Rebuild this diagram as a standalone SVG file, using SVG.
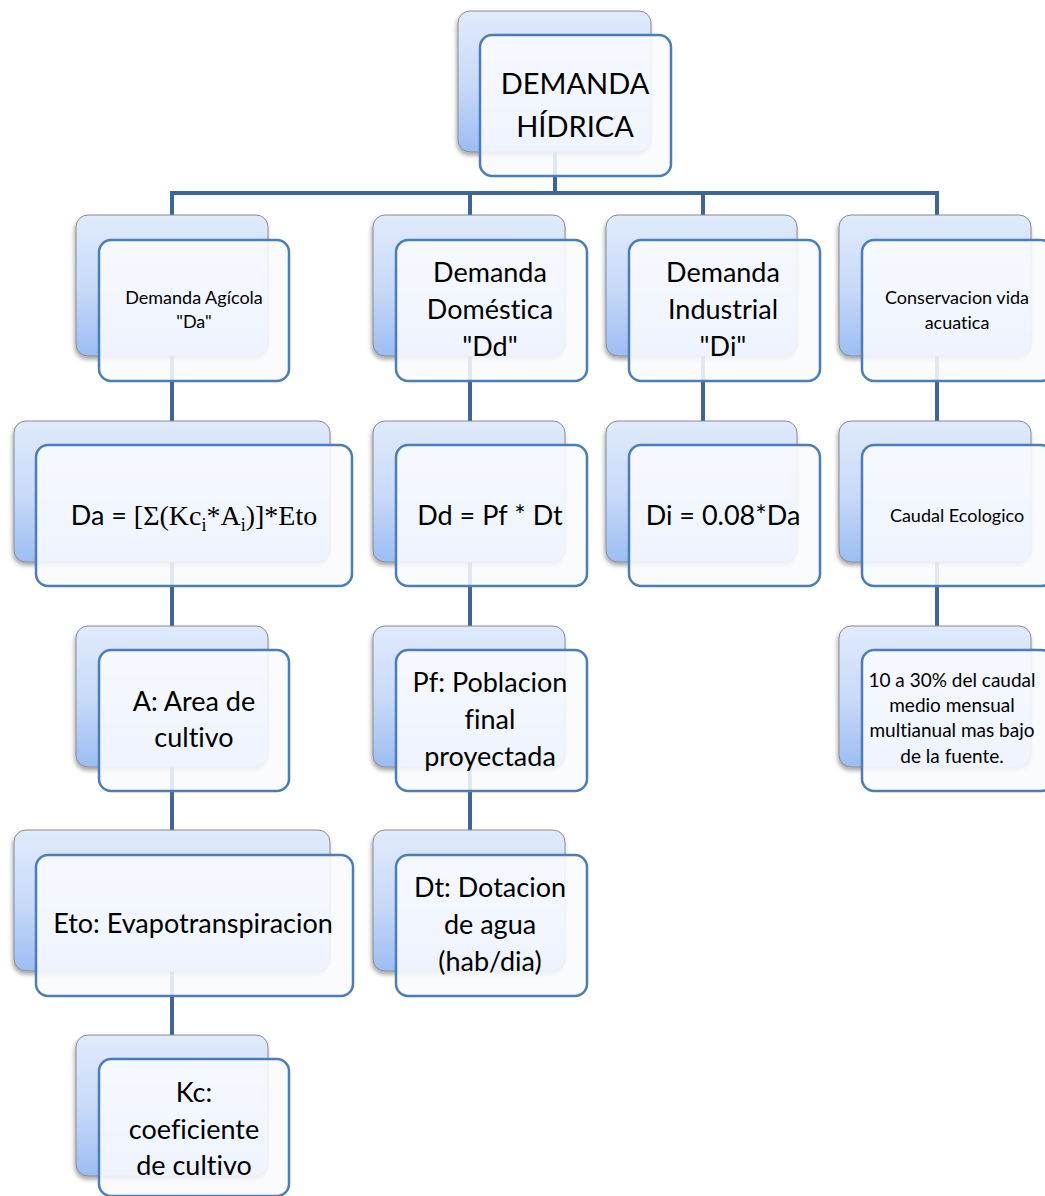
<svg xmlns="http://www.w3.org/2000/svg" width="1045" height="1196" viewBox="0 0 1045 1196">
<defs>
<linearGradient id="g" x1="0" y1="0" x2="0" y2="1">
<stop offset="0" stop-color="#e0eafc"/>
<stop offset="0.5" stop-color="#c9dbf9"/>
<stop offset="1" stop-color="#9cbdf3"/>
</linearGradient>
<filter id="sh" x="-10%" y="-10%" width="120%" height="125%">
<feDropShadow dx="-1" dy="3" stdDeviation="2" flood-color="#000" flood-opacity="0.35"/>
</filter>
<style>
.back{fill:url(#g);stroke:#8a8a8a;stroke-width:1;filter:url(#sh)}
.front{fill:#f9fbff;fill-opacity:0.88;stroke:#4a7ebb;stroke-width:2.5}
.t{font-family:Lato,"Open Sans",sans-serif;fill:#000;text-anchor:middle;font-variant-ligatures:none}
.mid{font-size:27px}
.sm{font-size:18px}
.sm2{font-size:19px}
.conn{stroke:#3c6699;stroke-width:4;fill:none}
</style>
</defs>
<rect width="1045" height="1196" fill="#fff"/>
<g id="connectors">
<path class="conn" d="M555 150V193M172 193H937M172 191V1040M470 191V835M703 191V425M937 191V630"/>
</g>
<g id="n-demanda-hidrica">
<rect class="back" x="458" y="11" width="193" height="141" rx="12"/>
<rect class="front" x="480" y="35" width="191" height="141" rx="12"/>
<text class="t" font-size="29" x="575" y="94">DEMANDA</text>
<text class="t" font-size="29" x="575" y="137">HÍDRICA</text>
</g>
<g id="n-agricola">
<rect class="back" x="76" y="215" width="192" height="141" rx="12"/>
<rect class="front" x="99" y="240" width="190" height="141" rx="12"/>
<text class="t sm" x="194" y="304">Demanda Agícola</text>
<text class="t sm" x="194" y="328">"Da"</text>
</g>
<g id="n-domestica">
<rect class="back" x="373" y="215" width="192" height="141" rx="12"/>
<rect class="front" x="396" y="240" width="191" height="141" rx="12"/>
<text class="t mid" x="490" y="282">Demanda</text>
<text class="t mid" x="490" y="319">Doméstica</text>
<text class="t mid" x="490" y="356">"Dd"</text>
</g>
<g id="n-industrial">
<rect class="back" x="606" y="215" width="191" height="141" rx="12"/>
<rect class="front" x="629" y="240" width="191" height="141" rx="12"/>
<text class="t mid" x="723" y="282">Demanda</text>
<text class="t mid" x="723" y="319">Industrial</text>
<text class="t mid" x="723" y="356">"Di"</text>
</g>
<g id="n-conservacion">
<rect class="back" x="839" y="215" width="192" height="141" rx="12"/>
<rect class="front" x="862" y="240" width="191" height="141" rx="12"/>
<text class="t sm" x="957" y="304">Conservacion vida</text>
<text class="t sm" x="957" y="329">acuatica</text>
</g>
<g id="n-da-formula">
<rect class="back" x="14" y="421" width="316" height="141" rx="12"/>
<rect class="front" x="36" y="445" width="316" height="141" rx="12"/>
<text class="t mid" x="194" y="525"><tspan>Da = </tspan><tspan font-family="Liberation Serif,serif" font-size="28">[Σ(Kc<tspan font-size="18" dy="6">i</tspan><tspan dy="-6">*A</tspan><tspan font-size="18" dy="6">i</tspan><tspan dy="-6">)]*Eto</tspan></tspan></text>
</g>
<g id="n-dd-formula">
<rect class="back" x="373" y="421" width="192" height="141" rx="12"/>
<rect class="front" x="396" y="445" width="191" height="141" rx="12"/>
<text class="t mid" x="490" y="525">Dd = Pf * Dt</text>
</g>
<g id="n-di-formula">
<rect class="back" x="606" y="421" width="191" height="141" rx="12"/>
<rect class="front" x="629" y="445" width="191" height="141" rx="12"/>
<text class="t mid" x="723" y="525">Di = 0.08*Da</text>
</g>
<g id="n-caudal-ecologico">
<rect class="back" x="839" y="421" width="192" height="141" rx="12"/>
<rect class="front" x="862" y="445" width="191" height="141" rx="12"/>
<text class="t sm" x="957" y="522">Caudal Ecologico</text>
</g>
<g id="n-area">
<rect class="back" x="76" y="626" width="192" height="141" rx="12"/>
<rect class="front" x="99" y="650" width="190" height="141" rx="12"/>
<text class="t mid" x="194" y="711">A: Area de</text>
<text class="t mid" x="194" y="747">cultivo</text>
</g>
<g id="n-poblacion">
<rect class="back" x="373" y="626" width="192" height="141" rx="12"/>
<rect class="front" x="396" y="650" width="191" height="141" rx="12"/>
<text class="t mid" x="490" y="692">Pf: Poblacion</text>
<text class="t mid" x="490" y="729">final</text>
<text class="t mid" x="490" y="766">proyectada</text>
</g>
<g id="n-porcentaje">
<rect class="back" x="839" y="626" width="192" height="141" rx="12"/>
<rect class="front" x="862" y="650" width="191" height="141" rx="12"/>
<text class="t sm2" x="952" y="687">10 a 30% del caudal</text>
<text class="t sm2" x="952" y="712">medio mensual</text>
<text class="t sm2" x="952" y="737">multianual mas bajo</text>
<text class="t sm2" x="952" y="763">de la fuente.</text>
</g>
<g id="n-eto">
<rect class="back" x="14" y="830" width="316" height="141" rx="12"/>
<rect class="front" x="36" y="855" width="317" height="141" rx="12"/>
<text class="t mid" x="193" y="933">Eto: Evapotranspiracion</text>
</g>
<g id="n-dotacion">
<rect class="back" x="373" y="830" width="192" height="141" rx="12"/>
<rect class="front" x="396" y="855" width="191" height="141" rx="12"/>
<text class="t mid" x="490" y="897">Dt: Dotacion</text>
<text class="t mid" x="490" y="934">de agua</text>
<text class="t mid" x="490" y="971">(hab/dia)</text>
</g>
<g id="n-kc">
<rect class="back" x="76" y="1035" width="192" height="141" rx="12"/>
<rect class="front" x="99" y="1059" width="190" height="137" rx="12"/>
<text class="t mid" x="194" y="1102">Kc:</text>
<text class="t mid" x="194" y="1139">coeficiente</text>
<text class="t mid" x="194" y="1175">de cultivo</text>
</g>
</svg>
